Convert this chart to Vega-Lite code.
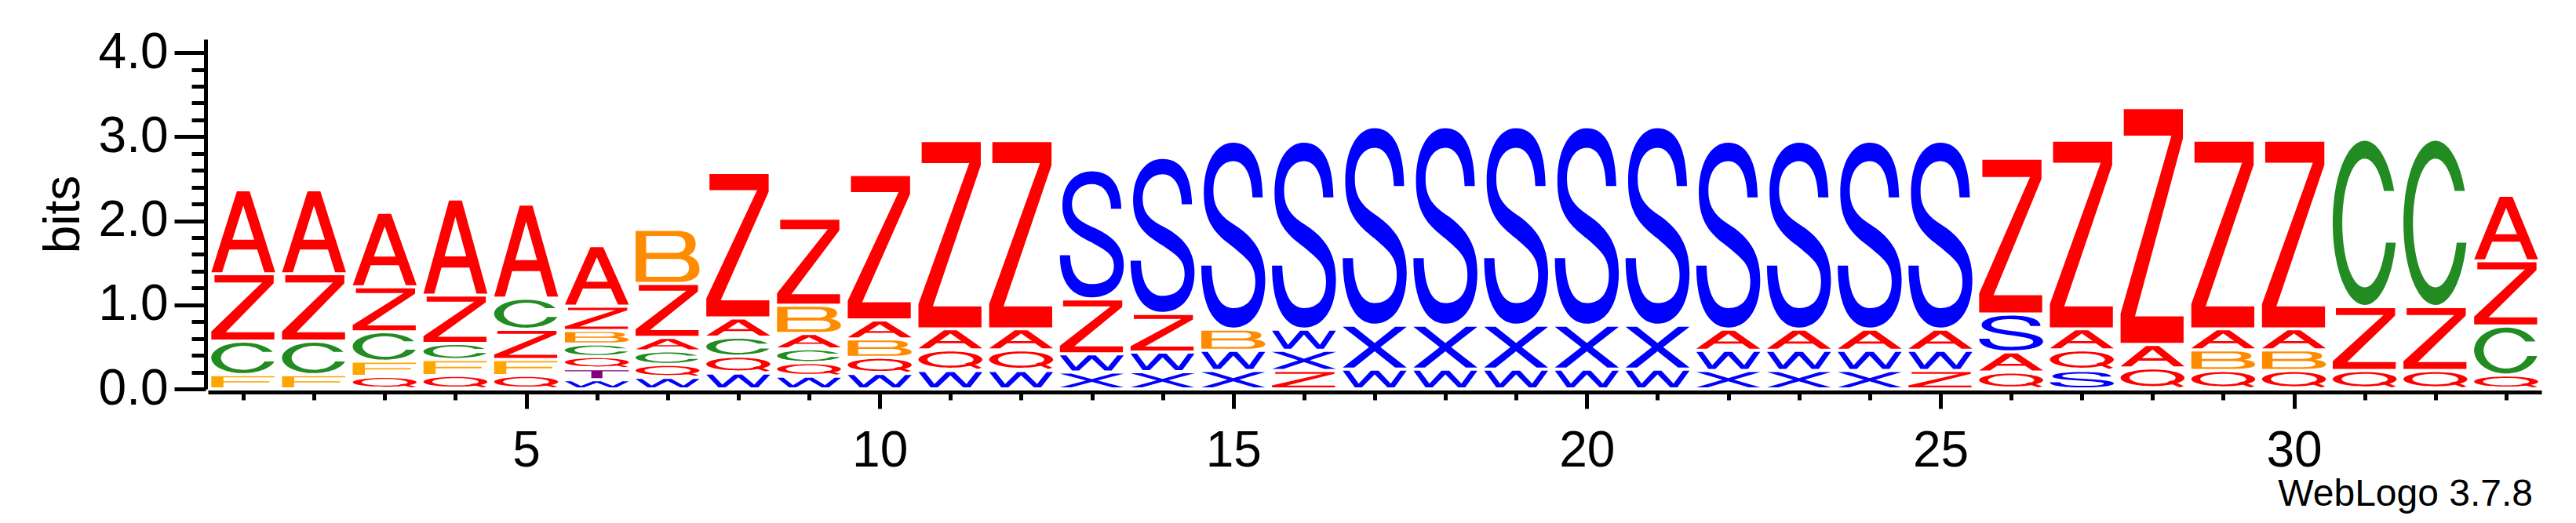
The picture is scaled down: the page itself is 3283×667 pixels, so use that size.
{
  "$schema": "https://vega.github.io/schema/vega-lite/v6.json",
  "width": 2974,
  "height": 446,
  "autosize": {"type": "none"},
  "padding": {"left": 265, "top": 50, "right": 44, "bottom": 171},
  "background": "white",
  "config": {"view": {"stroke": null}, "font": "Liberation Sans"},
  "title": {"text": "WebLogo 3.7.8", "orient": "bottom", "anchor": "end", "frame": "group", "fontSize": 48, "font": "Liberation Sans", "fontWeight": "normal", "color": "black", "offset": 0, "dx": -11},
  "data": {"values": [
    {"pos":1,"letter":"A","bits":1.0},{"pos":1,"letter":"Z","bits":0.8},{"pos":1,"letter":"C","bits":0.4},{"pos":1,"letter":"F","bits":0.17},
    {"pos":2,"letter":"A","bits":1.0},{"pos":2,"letter":"Z","bits":0.8},{"pos":2,"letter":"C","bits":0.4},{"pos":2,"letter":"F","bits":0.17},
    {"pos":3,"letter":"A","bits":0.886},{"pos":3,"letter":"Z","bits":0.535},{"pos":3,"letter":"C","bits":0.35},{"pos":3,"letter":"F","bits":0.18},{"pos":3,"letter":"Q","bits":0.15},
    {"pos":4,"letter":"A","bits":1.144},{"pos":4,"letter":"Z","bits":0.575},{"pos":4,"letter":"C","bits":0.191},{"pos":4,"letter":"F","bits":0.19},{"pos":4,"letter":"Q","bits":0.16},
    {"pos":5,"letter":"A","bits":1.12},{"pos":5,"letter":"C","bits":0.37},{"pos":5,"letter":"Z","bits":0.36},{"pos":5,"letter":"F","bits":0.19},{"pos":5,"letter":"Q","bits":0.16},
    {"pos":6,"letter":"A","bits":0.72},{"pos":6,"letter":"Z","bits":0.29},{"pos":6,"letter":"B","bits":0.16},{"pos":6,"letter":"C","bits":0.15},{"pos":6,"letter":"Q","bits":0.145},{"pos":6,"letter":"T","bits":0.13},{"pos":6,"letter":"W","bits":0.11},
    {"pos":7,"letter":"B","bits":0.645},{"pos":7,"letter":"Z","bits":0.64},{"pos":7,"letter":"A","bits":0.162},{"pos":7,"letter":"C","bits":0.16},{"pos":7,"letter":"Q","bits":0.155},{"pos":7,"letter":"W","bits":0.137},
    {"pos":8,"letter":"Z","bits":1.73},{"pos":8,"letter":"A","bits":0.23},{"pos":8,"letter":"C","bits":0.225},{"pos":8,"letter":"Q","bits":0.2},{"pos":8,"letter":"W","bits":0.19},
    {"pos":9,"letter":"Z","bits":1.035},{"pos":9,"letter":"B","bits":0.336},{"pos":9,"letter":"A","bits":0.183},{"pos":9,"letter":"C","bits":0.165},{"pos":9,"letter":"Q","bits":0.16},{"pos":9,"letter":"W","bits":0.152},
    {"pos":10,"letter":"Z","bits":1.73},{"pos":10,"letter":"A","bits":0.225},{"pos":10,"letter":"B","bits":0.22},{"pos":10,"letter":"Q","bits":0.19},{"pos":10,"letter":"W","bits":0.185},
    {"pos":11,"letter":"Z","bits":2.24},{"pos":11,"letter":"A","bits":0.25},{"pos":11,"letter":"Q","bits":0.245},{"pos":11,"letter":"W","bits":0.22},
    {"pos":12,"letter":"Z","bits":2.24},{"pos":12,"letter":"A","bits":0.25},{"pos":12,"letter":"Q","bits":0.245},{"pos":12,"letter":"W","bits":0.22},
    {"pos":13,"letter":"S","bits":1.535},{"pos":13,"letter":"Z","bits":0.653},{"pos":13,"letter":"W","bits":0.218},{"pos":13,"letter":"X","bits":0.2},
    {"pos":14,"letter":"S","bits":1.855},{"pos":14,"letter":"Z","bits":0.46},{"pos":14,"letter":"W","bits":0.233},{"pos":14,"letter":"X","bits":0.205},
    {"pos":15,"letter":"S","bits":2.235},{"pos":15,"letter":"B","bits":0.252},{"pos":15,"letter":"W","bits":0.24},{"pos":15,"letter":"X","bits":0.22},
    {"pos":16,"letter":"S","bits":2.235},{"pos":16,"letter":"W","bits":0.252},{"pos":16,"letter":"X","bits":0.24},{"pos":16,"letter":"Z","bits":0.22},
    {"pos":17,"letter":"S","bits":2.362},{"pos":17,"letter":"X","bits":0.522},{"pos":17,"letter":"W","bits":0.236},
    {"pos":18,"letter":"S","bits":2.362},{"pos":18,"letter":"X","bits":0.522},{"pos":18,"letter":"W","bits":0.236},
    {"pos":19,"letter":"S","bits":2.362},{"pos":19,"letter":"X","bits":0.522},{"pos":19,"letter":"W","bits":0.236},
    {"pos":20,"letter":"S","bits":2.362},{"pos":20,"letter":"X","bits":0.522},{"pos":20,"letter":"W","bits":0.236},
    {"pos":21,"letter":"S","bits":2.362},{"pos":21,"letter":"X","bits":0.522},{"pos":21,"letter":"W","bits":0.236},
    {"pos":22,"letter":"S","bits":2.235},{"pos":22,"letter":"A","bits":0.252},{"pos":22,"letter":"W","bits":0.24},{"pos":22,"letter":"X","bits":0.22},
    {"pos":23,"letter":"S","bits":2.235},{"pos":23,"letter":"A","bits":0.252},{"pos":23,"letter":"W","bits":0.24},{"pos":23,"letter":"X","bits":0.22},
    {"pos":24,"letter":"S","bits":2.235},{"pos":24,"letter":"A","bits":0.252},{"pos":24,"letter":"W","bits":0.24},{"pos":24,"letter":"X","bits":0.22},
    {"pos":25,"letter":"S","bits":2.235},{"pos":25,"letter":"A","bits":0.252},{"pos":25,"letter":"W","bits":0.24},{"pos":25,"letter":"Z","bits":0.22},
    {"pos":26,"letter":"Z","bits":1.855},{"pos":26,"letter":"S","bits":0.45},{"pos":26,"letter":"A","bits":0.24},{"pos":26,"letter":"Q","bits":0.2},
    {"pos":27,"letter":"Z","bits":2.244},{"pos":27,"letter":"A","bits":0.25},{"pos":27,"letter":"Q","bits":0.245},{"pos":27,"letter":"S","bits":0.22},
    {"pos":28,"letter":"Z","bits":2.816},{"pos":28,"letter":"A","bits":0.28},{"pos":28,"letter":"Q","bits":0.25},
    {"pos":29,"letter":"Z","bits":2.244},{"pos":29,"letter":"A","bits":0.25},{"pos":29,"letter":"B","bits":0.245},{"pos":29,"letter":"Q","bits":0.22},
    {"pos":30,"letter":"Z","bits":2.244},{"pos":30,"letter":"A","bits":0.25},{"pos":30,"letter":"B","bits":0.245},{"pos":30,"letter":"Q","bits":0.22},
    {"pos":31,"letter":"C","bits":1.99},{"pos":31,"letter":"Z","bits":0.76},{"pos":31,"letter":"Q","bits":0.22},
    {"pos":32,"letter":"C","bits":1.99},{"pos":32,"letter":"Z","bits":0.76},{"pos":32,"letter":"Q","bits":0.22},
    {"pos":33,"letter":"A","bits":0.78},{"pos":33,"letter":"Z","bits":0.775},{"pos":33,"letter":"C","bits":0.584},{"pos":33,"letter":"Q","bits":0.165}
  ]},
  "transform": [
    {"stack": "bits", "groupby": ["pos"], "sort": [{"field": "bits", "order": "ascending"}], "as": ["bottom", "top"]}
  ],
  "mark": {
    "type": "point",
    "filled": true,
    "opacity": 1,
    "strokeWidth": 0,
    "size": 45977,
    "yOffset": 2,
    "shape": {"expr": "datum.letter==='S' ? ('M0.35,'+(0.296*(datum.bits-0.037))+'C0.342,'+(0.09*(datum.bits-0.037))+',0.209,0,0,0C-0.22,0,-0.35,'+(0.12*(datum.bits-0.037))+',-0.35,'+(0.27*(datum.bits-0.037))+'C-0.35,'+(0.44*(datum.bits-0.037))+',-0.19,'+(0.5*(datum.bits-0.037))+',0,'+(0.565*(datum.bits-0.037))+'C0.171,'+(0.63*(datum.bits-0.037))+',0.262,'+(0.66*(datum.bits-0.037))+',0.262,'+(0.75*(datum.bits-0.037))+'C0.262,'+(0.85*(datum.bits-0.037))+',0.152,'+(0.895*(datum.bits-0.037))+',0,'+(0.895*(datum.bits-0.037))+'C-0.152,'+(0.895*(datum.bits-0.037))+',-0.251,'+(0.82*(datum.bits-0.037))+',-0.258,'+(0.665*(datum.bits-0.037))+'L-0.38,'+(0.665*(datum.bits-0.037))+'C-0.38,'+(0.88*(datum.bits-0.037))+',-0.236,'+(datum.bits-0.037)+',0,'+(datum.bits-0.037)+'C0.228,'+(datum.bits-0.037)+',0.38,'+(0.9*(datum.bits-0.037))+',0.38,'+(0.74*(datum.bits-0.037))+'C0.38,'+(0.58*(datum.bits-0.037))+',0.209,'+(0.5*(datum.bits-0.037))+',0,'+(0.44*(datum.bits-0.037))+'C-0.152,'+(0.395*(datum.bits-0.037))+',-0.236,'+(0.35*(datum.bits-0.037))+',-0.236,'+(0.26*(datum.bits-0.037))+'C-0.236,'+(0.16*(datum.bits-0.037))+',-0.133,'+(0.1*(datum.bits-0.037))+',0,'+(0.1*(datum.bits-0.037))+'C0.133,'+(0.1*(datum.bits-0.037))+',0.22,'+(0.17*(datum.bits-0.037))+',0.228,'+(0.296*(datum.bits-0.037))+'Z') : datum.letter==='Z' ? ('M-0.342,0L0.361,0L0.361,'+(0.125*(datum.bits-0.037))+'L-0.209,'+(0.887*(datum.bits-0.037))+'L0.369,'+(0.887*(datum.bits-0.037))+'L0.369,'+(datum.bits-0.037)+'L-0.38,'+(datum.bits-0.037)+'L-0.38,'+(0.875*(datum.bits-0.037))+'L0.224,'+(0.113*(datum.bits-0.037))+'L-0.342,'+(0.113*(datum.bits-0.037))+'Z') : datum.letter==='A' ? ('M-0.38,'+(datum.bits-0.037)+'L-0.076,0L0.076,0L0.38,'+(datum.bits-0.037)+'L0.251,'+(datum.bits-0.037)+'L0.166,'+(0.72*(datum.bits-0.037))+'L-0.166,'+(0.72*(datum.bits-0.037))+'L-0.251,'+(datum.bits-0.037)+'ZM0,'+(0.175*(datum.bits-0.037))+'L-0.129,'+(0.6*(datum.bits-0.037))+'L0.129,'+(0.6*(datum.bits-0.037))+'Z') : datum.letter==='C' ? ('M0.35,'+(0.305*(datum.bits-0.037))+'A0.38,'+(0.5*(datum.bits-0.037))+',0,1,0,0.369,'+(0.62*(datum.bits-0.037))+'L0.253,'+(0.62*(datum.bits-0.037))+'A0.266,'+(0.392*(datum.bits-0.037))+',0,1,1,0.23,'+(0.305*(datum.bits-0.037))+'Z') : datum.letter==='Q' ? ('M-0.38,'+(0.465*(datum.bits-0.037))+'A0.38,'+(0.465*(datum.bits-0.037))+',0,1,1,0.38,'+(0.465*(datum.bits-0.037))+'A0.38,'+(0.465*(datum.bits-0.037))+',0,1,1,-0.38,'+(0.465*(datum.bits-0.037))+'ZM-0.274,'+(0.465*(datum.bits-0.037))+'A0.274,'+(0.35*(datum.bits-0.037))+',0,1,0,0.274,'+(0.465*(datum.bits-0.037))+'A0.274,'+(0.35*(datum.bits-0.037))+',0,1,0,-0.274,'+(0.465*(datum.bits-0.037))+'ZM0.171,'+(0.7*(datum.bits-0.037))+'L0.228,'+(0.62*(datum.bits-0.037))+'L0.372,'+(0.93*(datum.bits-0.037))+'L0.323,'+(datum.bits-0.037)+'Z') : datum.letter==='W' ? ('M-0.38,0L-0.304,0L-0.19,'+(0.78*(datum.bits-0.037))+'L-0.046,0L0.046,0L0.19,'+(0.78*(datum.bits-0.037))+'L0.304,0L0.38,0L0.236,'+(datum.bits-0.037)+'L0.152,'+(datum.bits-0.037)+'L0,'+(0.22*(datum.bits-0.037))+'L-0.152,'+(datum.bits-0.037)+'L-0.236,'+(datum.bits-0.037)+'Z') : datum.letter==='X' ? ('M-0.38,0L-0.243,0L0,'+(0.4*(datum.bits-0.037))+'L0.243,0L0.38,0L0.068,'+(0.5*(datum.bits-0.037))+'L0.38,'+(datum.bits-0.037)+'L0.243,'+(datum.bits-0.037)+'L0,'+(0.6*(datum.bits-0.037))+'L-0.243,'+(datum.bits-0.037)+'L-0.38,'+(datum.bits-0.037)+'L-0.068,'+(0.5*(datum.bits-0.037))+'Z') : datum.letter==='B' ? ('M-0.38,0L0.114,0C0.266,0,0.334,'+(0.1*(datum.bits-0.037))+',0.334,'+(0.25*(datum.bits-0.037))+'C0.334,'+(0.38*(datum.bits-0.037))+',0.296,'+(0.45*(datum.bits-0.037))+',0.247,'+(0.48*(datum.bits-0.037))+'C0.334,'+(0.52*(datum.bits-0.037))+',0.38,'+(0.62*(datum.bits-0.037))+',0.38,'+(0.75*(datum.bits-0.037))+'C0.38,'+(0.92*(datum.bits-0.037))+',0.285,'+(datum.bits-0.037)+',0.133,'+(datum.bits-0.037)+'L-0.38,'+(datum.bits-0.037)+'ZM-0.255,'+(0.1*(datum.bits-0.037))+'L-0.255,'+(0.43*(datum.bits-0.037))+'L0.095,'+(0.43*(datum.bits-0.037))+'C0.19,'+(0.43*(datum.bits-0.037))+',0.213,'+(0.35*(datum.bits-0.037))+',0.213,'+(0.265*(datum.bits-0.037))+'C0.213,'+(0.16*(datum.bits-0.037))+',0.171,'+(0.1*(datum.bits-0.037))+',0.095,'+(0.1*(datum.bits-0.037))+'ZM-0.255,'+(0.55*(datum.bits-0.037))+'L-0.255,'+(0.9*(datum.bits-0.037))+'L0.114,'+(0.9*(datum.bits-0.037))+'C0.209,'+(0.9*(datum.bits-0.037))+',0.255,'+(0.83*(datum.bits-0.037))+',0.255,'+(0.725*(datum.bits-0.037))+'C0.255,'+(0.61*(datum.bits-0.037))+',0.209,'+(0.55*(datum.bits-0.037))+',0.114,'+(0.55*(datum.bits-0.037))+'Z') : datum.letter==='F' ? ('M-0.38,0L0.372,0L0.372,'+(0.11*(datum.bits-0.037))+'L-0.236,'+(0.11*(datum.bits-0.037))+'L-0.236,'+(0.45*(datum.bits-0.037))+'L0.312,'+(0.45*(datum.bits-0.037))+'L0.312,'+(0.56*(datum.bits-0.037))+'L-0.236,'+(0.56*(datum.bits-0.037))+'L-0.236,'+(datum.bits-0.037)+'L-0.38,'+(datum.bits-0.037)+'Z') : ('M-0.38,0L0.38,0L0.38,'+(0.13*(datum.bits-0.037))+'L0.066,'+(0.13*(datum.bits-0.037))+'L0.066,'+(datum.bits-0.037)+'L-0.066,'+(datum.bits-0.037)+'L-0.066,'+(0.13*(datum.bits-0.037))+'L-0.38,'+(0.13*(datum.bits-0.037))+'Z')"}
  },
  "encoding": {
    "x": {
      "field": "pos", "type": "quantitative",
      "scale": {"domain": [0.5, 33.5], "nice": false, "zero": false},
      "axis": {
        "title": null,
        "values": [1,2,3,4,5,6,7,8,9,10,11,12,13,14,15,16,17,18,19,20,21,22,23,24,25,26,27,28,29,30,31,32,33],
        "labelExpr": "datum.value % 5 === 0 ? datum.label : ''",
        "tickSize": {"condition": {"test": "datum.value % 5 === 0", "value": 21}, "value": 10},
        "tickWidth": 5, "tickColor": "black",
        "domainWidth": 5, "domainColor": "black",
        "labelFontSize": 64, "labelFont": "Liberation Sans", "labelColor": "black",
        "labelPadding": 22, "labelFlush": false, "labelOverlap": false,
        "grid": false, "offset": 4
      }
    },
    "y": {
      "field": "top", "type": "quantitative",
      "scale": {"domain": [0, 4.16], "nice": false, "zero": true},
      "axis": {
        "title": "bits",
        "titleFontSize": 64, "titleFont": "Liberation Sans", "titleFontWeight": "normal", "titleColor": "black", "titlePadding": 12,
        "values": [0,0.2,0.4,0.6,0.8,1,1.2,1.4,1.6,1.8,2,2.2,2.4,2.6,2.8,3,3.2,3.4,3.6,3.8,4],
        "labelExpr": "abs(datum.value-round(datum.value))<0.001 ? format(datum.value,'.1f') : ''",
        "tickSize": {"condition": {"test": "abs(datum.value-round(datum.value))<0.001", "value": 40}, "value": 18},
        "tickWidth": 5, "tickColor": "black",
        "domainWidth": 5, "domainColor": "black",
        "labelFontSize": 64, "labelFont": "Liberation Sans", "labelColor": "black",
        "labelPadding": 8, "labelOverlap": false, "labelFlush": false,
        "grid": false, "offset": 3
      }
    },
    "color": {
      "field": "letter", "type": "nominal", "legend": null,
      "scale": {
        "domain": ["A","Z","Q","C","F","B","S","W","X","T"],
        "range": ["#ff0000","#ff0000","#ff0000","#228b22","#ffa500","#ff8c00","#0000ff","#0000ff","#0000ff","#800080"]
      }
    }
  }
}
